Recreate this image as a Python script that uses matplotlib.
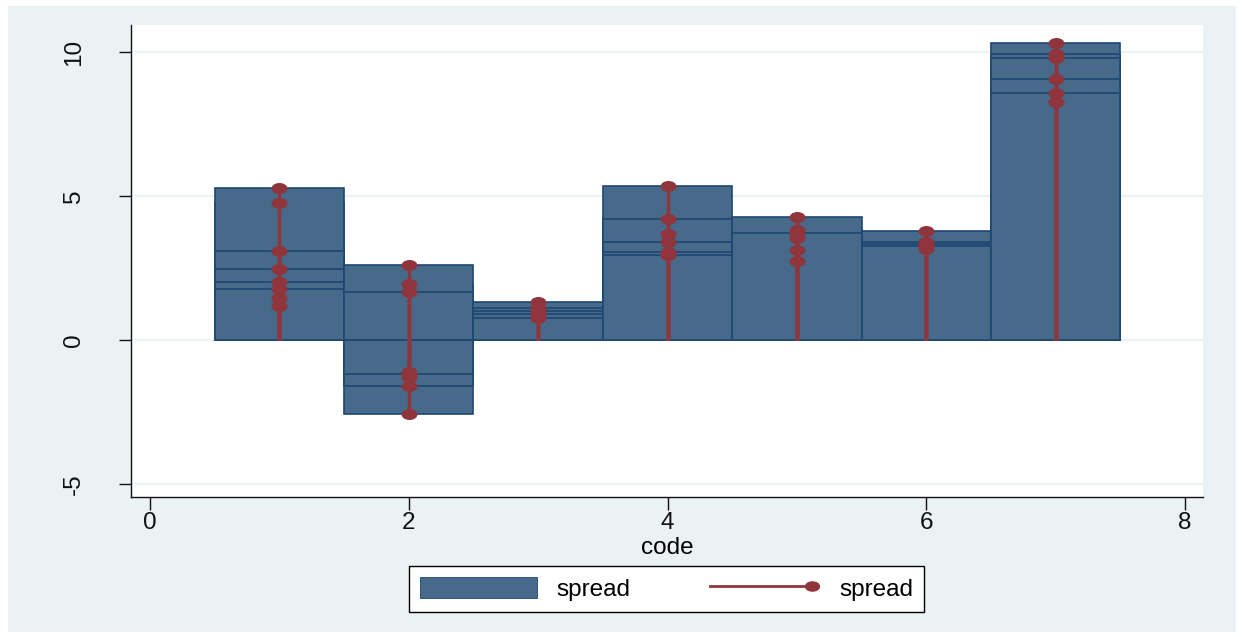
import numpy as np
import matplotlib
matplotlib.use("Agg")
import matplotlib.pyplot as plt
from matplotlib.patches import Patch, Rectangle
from matplotlib.lines import Line2D
from matplotlib.path import Path
from matplotlib.legend_handler import HandlerLine2D

plt.rcParams["font.family"] = ["Liberation Sans", "DejaVu Sans"]

# one row per observation, in the order they are drawn
code = [1, 1, 1, 1, 1, 1, 1, 1,
        2, 2, 2, 2, 2, 2, 2, 2,
        3, 3, 3, 3, 3,
        4, 4, 4, 4, 4, 4,
        5, 5, 5, 5, 5, 5,
        6, 6, 6, 6, 6,
        7, 7, 7, 7, 7, 7]
spread = [4.75, 5.27, 1.45, 1.18, 3.10, 2.45, 2.01, 1.76,
          1.93, 2.60, 1.68, -1.10, -1.30, -2.57, -1.59, -1.19,
          1.31, 1.10, 1.02, 0.90, 0.78,
          3.67, 5.36, 4.20, 3.41, 3.07, 2.96,
          3.82, 4.27, 3.56, 3.12, 2.75, 3.70,
          3.80, 3.15, 3.41, 3.33, 3.26,
          10.32, 9.93, 9.79, 9.05, 8.28, 8.58]

xticks = [0, 2, 4, 6, 8]
yticks = [-5, 0, 5, 10]

BG     = "#EAF2F3"
NAVY   = "#476A8B"
EDGE   = "#1E4770"
MAROON = "#90353B"

# stata draws the markers stretched sideways
circ = Path.unit_circle()
ellipse = Path(circ.vertices * np.array([1.45, 1.0]), circ.codes)


class EndMarkerHandler(HandlerLine2D):
    # line with the marker only at its right end, like stata's legend key
    def create_artists(self, *args, **kwargs):
        arts = super().create_artists(*args, **kwargs)
        for a in arts:
            a.set_markevery([1])
        return arts


fig = plt.figure(figsize=(12.42, 6.37), dpi=100, facecolor="white")
fig.patches.append(Rectangle((8 / 1242, 5 / 637), 1228 / 1242, 626 / 637,
                             transform=fig.transFigure, facecolor=BG,
                             edgecolor="none", zorder=-10))

ax = fig.add_axes([131 / 1242, 1 - 497 / 637, (1203 - 131) / 1242, (497 - 25) / 637])
ax.set_facecolor("white")

# overlapping bars, one per observation
ax.bar(code, spread, width=1.0, color=NAVY, edgecolor=EDGE,
       linewidth=1.2, zorder=2)

# dropline: spike from 0 plus marker at the value
ax.vlines(code, 0, spread, color=MAROON, linewidth=2.4, zorder=3)
ax.plot(code, spread, linestyle="none", marker=ellipse, markersize=11.5,
        color=MAROON, markeredgewidth=0, zorder=4)

ax.set_xlim(-0.147, 8.139)
ax.set_ylim(-5.45, 10.94)
ax.set_xticks(xticks)
ax.set_yticks(yticks)
ax.set_yticklabels([str(t) for t in yticks], rotation=90, va="center")

for t in yticks:
    ax.axhline(t, color=BG, linewidth=1.6, zorder=1)

ax.spines["top"].set_visible(False)
ax.spines["right"].set_visible(False)
for s in ["left", "bottom"]:
    ax.spines[s].set_linewidth(1.0)
    ax.spines[s].set_color("#111111")

ax.tick_params(axis="y", length=9, width=1, labelsize=17.5, pad=24, colors="#111111")
ax.tick_params(axis="x", length=9, width=1, labelsize=17.5, pad=2, colors="#111111")
ax.set_xlabel("code", fontsize=17.5, labelpad=2)

h_bar = Patch(facecolor=NAVY, edgecolor=EDGE, linewidth=0.6)
h_line = Line2D([0], [0], color=MAROON, linewidth=2.0, marker=ellipse,
                markersize=11, markeredgewidth=0)
leg = fig.legend([h_bar, h_line], ["spread", "spread"], ncol=2,
                 loc="center", bbox_to_anchor=(666.5 / 1242, 1 - 589 / 637),
                 fontsize=17.5, frameon=True, fancybox=False, framealpha=1,
                 edgecolor="black", facecolor="white",
                 handlelength=4.8, handleheight=0.95, handletextpad=0.8,
                 columnspacing=3.0, borderpad=0.45, numpoints=2,
                 handler_map={Line2D: EndMarkerHandler(numpoints=2)})
leg.get_frame().set_linewidth(1.0)

fig.savefig("out.png", dpi=100, facecolor=fig.get_facecolor())
